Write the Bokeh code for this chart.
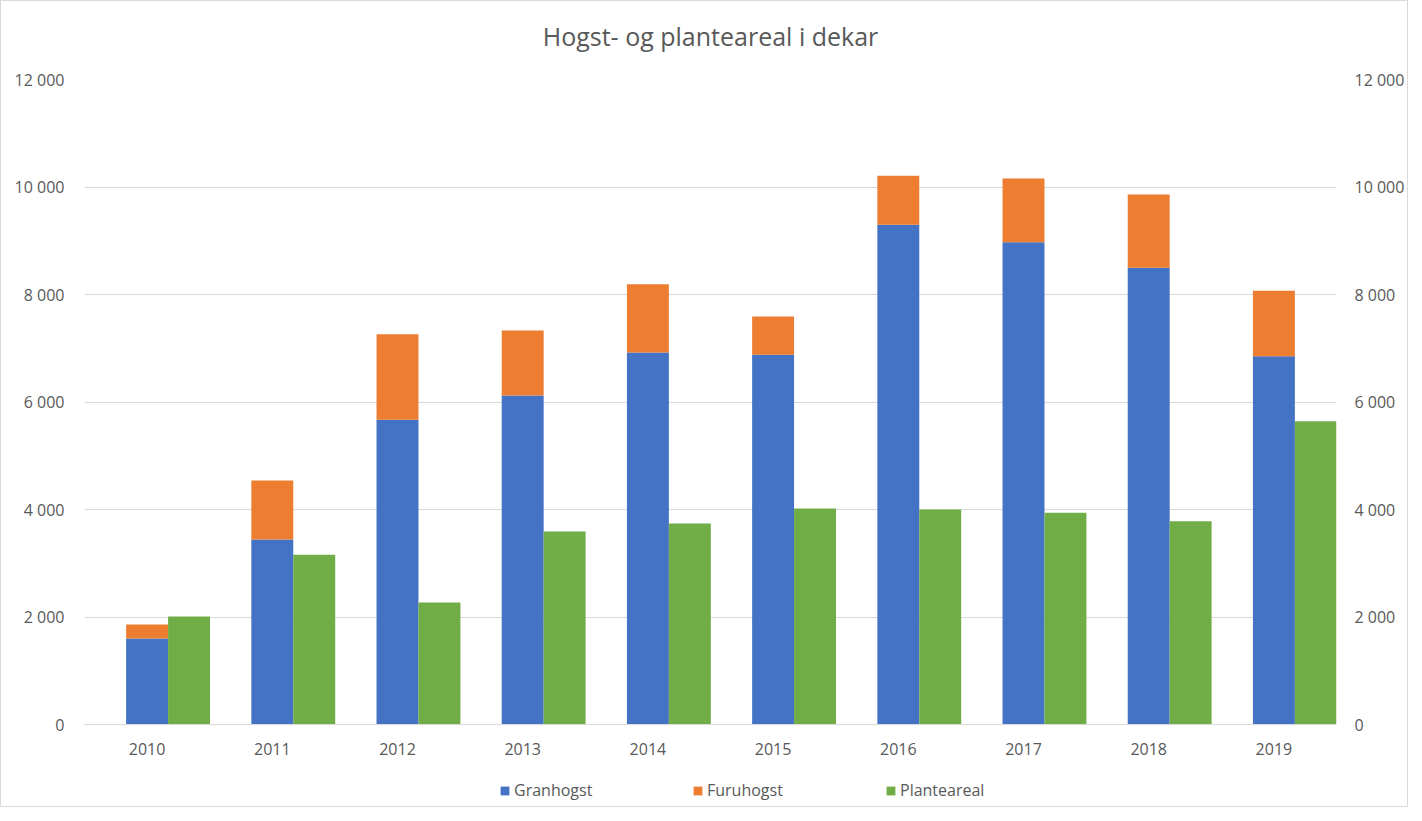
from bokeh.plotting import figure
from bokeh.layouts import column
from bokeh.models import (ColumnDataSource, LinearAxis, Legend, LegendItem,
                          CustomJSTickFormatter, FixedTicker, Range1d, Label)
from bokeh.transform import dodge
from bokeh.embed import file_html
from bokeh.resources import INLINE

years = ["2010", "2011", "2012", "2013", "2014", "2015", "2016", "2017", "2018", "2019"]
granhogst = [1600, 3440, 5670, 6120, 6920, 6880, 9300, 8970, 8500, 6850]
furuhogst = [260, 1100, 1590, 1210, 1270, 710, 910, 1190, 1360, 1220]
plantereal = [2010, 3160, 2270, 3590, 3740, 4020, 4000, 3940, 3780, 5640]
y_ticks = [0, 2000, 4000, 6000, 8000, 10000, 12000]

title_text = "Hogst- og planteareal i dekar"
names = ["Granhogst", "Furuhogst", "Planteareal"]
colors = ["#4472C4", "#ED7D31", "#70AD47"]

src = ColumnDataSource(dict(year=years, Granhogst=granhogst,
                            Furuhogst=furuhogst, Planteareal=plantereal))

FONT = "Open Sans"
GRAY = "#595959"
W = 1406
TITLE_H = 62


def strip(height):
    f = figure(width=W, height=height, x_range=Range1d(0, 1),
               y_range=Range1d(0, height), output_backend="svg",
               toolbar_location=None, x_axis_type=None, y_axis_type=None,
               min_border_left=0, min_border_right=0, min_border_top=0,
               min_border_bottom=0)
    f.outline_line_color = None
    f.xgrid.visible = False
    f.ygrid.visible = False
    return f


# title strip (its frame is aligned with the chart's frame)
tt = strip(TITLE_H)
tt.add_layout(Label(x=0.5, y=TITLE_H / 2 - 3, text=title_text, text_align="center",
                    text_baseline="middle", text_font=FONT,
                    text_font_size="25px", text_color=GRAY))

p = figure(x_range=years, y_range=Range1d(0, 12000), width=W, height=765 - TITLE_H,
           output_backend="svg", toolbar_location=None,
           min_border_left=83, min_border_right=W - 1336, min_border_top=78 - TITLE_H,
           min_border_bottom=42)
p.outline_line_color = None
p.x_range.range_padding = 0

bw = 0.335
stack = p.vbar_stack(["Granhogst", "Furuhogst"], x="year", width=bw,
                     color=colors[:2], source=src, line_color=None)
green = p.vbar(x=dodge("year", bw, range=p.x_range), top="Planteareal",
               width=bw, color=colors[2], line_color=None, source=src)

fmt = CustomJSTickFormatter(code="return tick.toString().replace(/\\B(?=(\\d{3})+(?!\\d))/g, ' ');")

yax = p.yaxis[0]
yax.ticker = FixedTicker(ticks=y_ticks)
yax.formatter = fmt
right = LinearAxis(ticker=FixedTicker(ticks=y_ticks), formatter=fmt)
p.add_layout(right, "right")
for ax in (yax, right):
    ax.axis_line_color = None
    ax.major_tick_line_color = None
    ax.minor_tick_line_color = None
    ax.major_label_text_font = FONT
    ax.major_label_text_font_size = "16px"
    ax.major_label_text_color = GRAY
yax.major_label_standoff = 14
right.major_label_standoff = 12

xax = p.xaxis[0]
xax.axis_line_color = "#D9D9D9"
xax.major_tick_line_color = None
xax.minor_tick_line_color = None
xax.major_label_text_font = FONT
xax.major_label_text_font_size = "16px"
xax.major_label_text_color = GRAY
xax.major_label_standoff = 12

p.xgrid.grid_line_color = None
p.ygrid.grid_line_color = "#D9D9D9"
p.ygrid.ticker = FixedTicker(ticks=y_ticks)

# legend strip below the chart
lg = strip(40)
# legend-key renderers: one bar of zero height, placed outside the visible range
keys = [lg.vbar(x=[-10], top=[0], width=0.1, color=c, line_color=None) for c in colors]

legend = Legend(items=[LegendItem(label=n, renderers=[r]) for n, r in zip(names, keys)],
                orientation="horizontal", location=(415, 5),
                glyph_width=11, glyph_height=11, label_standoff=4,
                label_width=176, spacing=2, padding=0, margin=0,
                border_line_color=None, background_fill_alpha=0,
                label_text_font=FONT, label_text_font_size="16px",
                label_text_color=GRAY)
lg.add_layout(legend, "center")

page = column(tt, p, lg, spacing=0, styles={"border": "1px solid #D9D9D9"})

open("out.html", "w").write(file_html(page, INLINE))
